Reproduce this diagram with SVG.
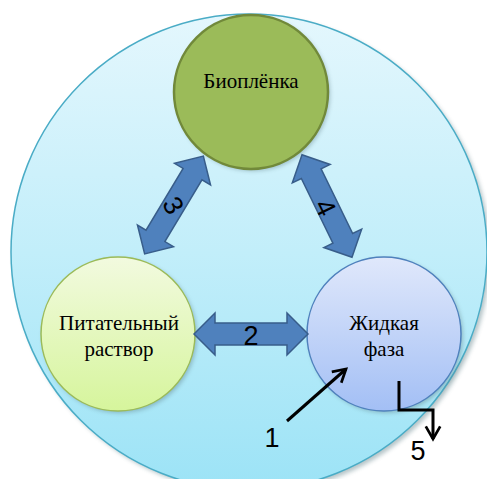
<svg xmlns="http://www.w3.org/2000/svg" width="487" height="479" viewBox="0 0 487 479">
  <defs>
    <linearGradient id="gOuter" x1="0" y1="0" x2="0" y2="1">
      <stop offset="0" stop-color="#e4f7fd"/>
      <stop offset="0.5" stop-color="#c2eefa"/>
      <stop offset="1" stop-color="#9ce3f6"/>
    </linearGradient>
    <linearGradient id="gFeed" x1="0" y1="0" x2="0" y2="1">
      <stop offset="0" stop-color="#f2fadf"/>
      <stop offset="1" stop-color="#d6f59c"/>
    </linearGradient>
    <linearGradient id="gLiquid" x1="0" y1="0" x2="0" y2="1">
      <stop offset="0" stop-color="#e0e8fb"/>
      <stop offset="1" stop-color="#a3bff5"/>
    </linearGradient>
    <filter id="soft" x="-10%" y="-10%" width="120%" height="120%">
      <feGaussianBlur stdDeviation="2"/>
    </filter>
    <marker id="head" viewBox="0 0 10 10" refX="8" refY="5" markerWidth="6" markerHeight="6" orient="auto" markerUnits="strokeWidth">
      <path d="M1,1 L8,5 L1,9" fill="none" stroke="#000" stroke-width="1.5" stroke-linejoin="miter"/>
    </marker>
    <path id="dbl" d="M-57,0 L-36,-21 L-36,-11 L36,-11 L36,-21 L57,0 L36,21 L36,11 L-36,11 L-36,21 Z"/>
  </defs>
  <style>
    .label { font-family: "Liberation Serif", "Times New Roman", serif; font-size: 21px; fill: #000; text-anchor: middle; }
    .num { font-family: "Liberation Sans", Arial, sans-serif; font-size: 27px; fill: #000; text-anchor: middle; }
    .block { fill: #4f81bd; stroke: #385d8a; stroke-width: 1.5; stroke-linejoin: miter; }
    .line { fill: none; stroke: #000; stroke-width: 3; }
    .shadow { fill: #5f7f86; opacity: 0.45; filter: url(#soft); }
  </style>

  <!-- outer boundary: the whole system -->
  <g id="system">
    <circle class="shadow" cx="252" cy="255" r="238"/>
    <circle cx="249" cy="252" r="238" fill="url(#gOuter)" stroke="#4aacc6" stroke-width="1.5"/>
  </g>

  <g id="biofilm">
    <circle class="shadow" cx="253" cy="94" r="77"/>
    <circle cx="251" cy="92" r="77" fill="#9bbb59" stroke="#71893a" stroke-width="2.5"/>
    <text class="label" x="251" y="88">Биоплёнка</text>
  </g>

  <g id="nutrient">
    <circle class="shadow" cx="120" cy="336" r="77"/>
    <circle cx="118" cy="334" r="77" fill="url(#gFeed)" stroke="#9bbb59" stroke-width="1.5"/>
    <text class="label" x="119" y="330">Питательный</text>
    <text class="label" x="119" y="356">раствор</text>
  </g>

  <g id="liquid">
    <circle class="shadow" cx="386" cy="336" r="77"/>
    <circle cx="384" cy="334" r="77" fill="url(#gLiquid)" stroke="#4f81bd" stroke-width="1.5"/>
    <text class="label" x="384" y="330">Жидкая</text>
    <text class="label" x="384" y="356">фаза</text>
  </g>

  <!-- exchange connectors -->
  <g id="connectors">
    <use href="#dbl" class="block" transform="translate(251,334)"/>
    <use href="#dbl" class="block" transform="translate(174,205) rotate(-59)"/>
    <use href="#dbl" class="block" transform="translate(327,206) rotate(64)"/>
    <text class="num" x="251" y="345">2</text>
    <text class="num" transform="translate(174,205) rotate(60)" x="0" y="10">3</text>
    <text class="num" transform="translate(326,207) rotate(64)" x="0" y="10">4</text>

    <!-- inflow 1 and outflow 5 -->
    <path class="line" d="M287,421 L346,369" marker-end="url(#head)"/>
    <path class="line" d="M399,381 L399,410 L433,410 L433,439" marker-end="url(#head)"/>
    <text class="num" x="272" y="447">1</text>
    <text class="num" x="418" y="460">5</text>
  </g>
</svg>
